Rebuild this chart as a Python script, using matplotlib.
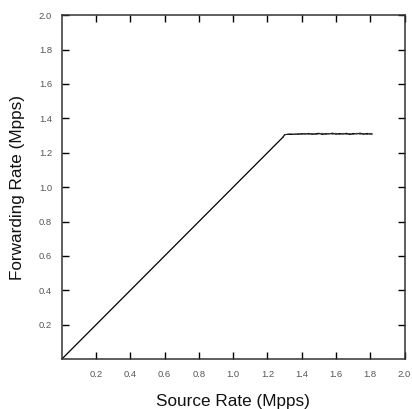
import matplotlib.pyplot as plt

plt.rcParams['font.family'] = ['Liberation Sans', 'DejaVu Sans']

# linear region (forwarding keeps up with source)
ramp_source = [0.0, 0.25, 0.5, 0.75, 1.0, 1.25, 1.29]
ramp_fwd = [0.0, 0.25, 0.5, 0.75, 1.0, 1.25, 1.29]

# saturated region
flat_source = [1.29, 1.30, 1.32, 1.34, 1.36, 1.38, 1.40, 1.42, 1.44, 1.46, 1.48,
               1.50, 1.52, 1.54, 1.56, 1.58, 1.60, 1.62, 1.64, 1.66, 1.68,
               1.70, 1.72, 1.74, 1.76, 1.78, 1.80, 1.81]
flat_fwd = [1.29, 1.305, 1.307, 1.306, 1.309, 1.307, 1.311, 1.308, 1.312, 1.307, 1.310,
            1.313, 1.306, 1.311, 1.309, 1.314, 1.307, 1.312, 1.308, 1.313, 1.306,
            1.312, 1.309, 1.314, 1.307, 1.312, 1.308, 1.310]
flat_fwd_b = [1.29, 1.303, 1.309, 1.310, 1.305, 1.312, 1.306, 1.313, 1.307, 1.312, 1.306,
              1.309, 1.314, 1.306, 1.313, 1.307, 1.314, 1.306, 1.313, 1.307, 1.312,
              1.306, 1.314, 1.307, 1.312, 1.306, 1.313, 1.306]

ticks = [0.2, 0.4, 0.6, 0.8, 1.0, 1.2, 1.4, 1.6, 1.8, 2.0]

fig = plt.figure(figsize=(4.12, 4.09), dpi=100)
ax = fig.add_axes([0.150, 0.122, 0.832, 0.841])

ax.plot(ramp_source, ramp_fwd, color='black', lw=0.9)
ax.plot(flat_source, flat_fwd, color='black', lw=0.8)
ax.plot(flat_source, flat_fwd_b, color='#333333', lw=0.6)

ax.set_xlim(0, 2.0)
ax.set_ylim(0, 2.0)
ax.set_xticks(ticks)
ax.set_yticks(ticks)
ax.set_xticklabels(['%.1f' % t for t in ticks])
ax.set_yticklabels(['%.1f' % t for t in ticks])
ax.tick_params(direction='in', top=True, right=True, length=5, width=1,
               labelsize=6.8, labelcolor='#555555', pad=8)
ax.tick_params(axis='y', pad=7)
for s in ax.spines.values():
    s.set_linewidth(1.1)
    s.set_color('#333333')

ax.set_xlabel('Source Rate (Mpps)', fontsize=12.3, labelpad=11, color='#111111')
ax.set_ylabel('Forwarding Rate (Mpps)', fontsize=12.3, labelpad=10, color='#111111')

fig.savefig('out.png', dpi=100)
